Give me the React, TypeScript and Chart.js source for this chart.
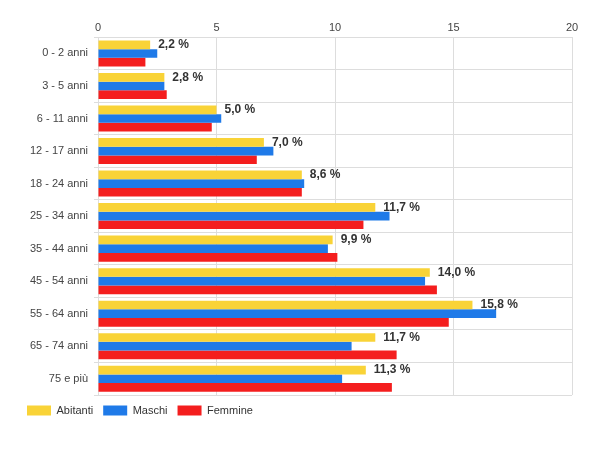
import React, { useEffect, useRef } from "react";
import { Chart, registerables } from "chart.js";
Chart.register(...registerables);

const categories = ["0 - 2 anni","3 - 5 anni","6 - 11 anni","12 - 17 anni","18 - 24 anni","25 - 34 anni","35 - 44 anni","45 - 54 anni","55 - 64 anni","65 - 74 anni","75 e più"];
const abitanti = [2.2,2.8,5.0,7.0,8.6,11.7,9.9,14.0,15.8,11.7,11.3];
const maschi = [2.5,2.8,5.2,7.4,8.7,12.3,9.7,13.8,16.8,10.7,10.3];
const femmine = [2.0,2.9,4.8,6.7,8.6,11.2,10.1,14.3,14.8,12.6,12.4];

const labelPlugin = {
  id: "vals",
  afterDatasetsDraw(chart: any) {
    const ctx = chart.ctx;
    const meta = chart.getDatasetMeta(0);
    ctx.save();
    ctx.font = "bold 12px Arial, 'Liberation Sans'";
    ctx.fillStyle = "#333";
    ctx.textBaseline = "middle";
    meta.data.forEach((el: any, i: number) => {
      ctx.fillText(abitanti[i].toFixed(1).replace(".", ",") + " %", el.x + 8, el.y);
    });
    ctx.restore();
  },
};

export default function App() {
  const ref = useRef<HTMLCanvasElement>(null);
  useEffect(() => {
    document.body.style.margin = "0";
    const c = new Chart(ref.current!, {
      type: "bar",
      data: {
        labels: categories,
        datasets: [
          { label: "Abitanti", data: abitanti, backgroundColor: "#f9d337" },
          { label: "Maschi", data: maschi, backgroundColor: "#1f7ae8" },
          { label: "Femmine", data: femmine, backgroundColor: "#f41e1e" },
        ],
      },
      options: {
        indexAxis: "y",
        animation: false,
        responsive: false,
        layout: { padding: { right: 28, top: 18, left: 17, bottom: 14 } },
        datasets: { bar: { categoryPercentage: 0.8, barPercentage: 1 } },
        scales: {
          x: {
            position: "top", min: 0, max: 20,
            ticks: { stepSize: 5, color: "#444", font: { family: "Arial, 'Liberation Sans'", size: 11 } },
            grid: { color: "#ddd", drawTicks: false },
            border: { display: false },
          },
          y: {
            afterFit: (s: any) => { s.width = 81; },
            ticks: { color: "#444", font: { family: "Arial, 'Liberation Sans'", size: 11 }, padding: 6 },
            grid: { color: "#ddd", offset: true, drawTicks: true, tickLength: 4 },
            border: { display: false },
          },
        },
        plugins: {
          legend: {
            position: "bottom", align: "start",
            labels: { boxWidth: 24, boxHeight: 10, padding: 10, color: "#333", font: { family: "Arial, 'Liberation Sans'", size: 11 } },
          },
          tooltip: { enabled: false },
        },
      },
      plugins: [labelPlugin, {
        id: "legendMargin",
        beforeInit(chart: any) {
          const orig = chart.legend.fit;
          chart.legend.fit = function () { orig.bind(chart.legend)(); this.height += 10; };
        },
      }],
    });
    return () => c.destroy();
  }, []);
  return <canvas ref={ref} width={600} height={450} />;
}
